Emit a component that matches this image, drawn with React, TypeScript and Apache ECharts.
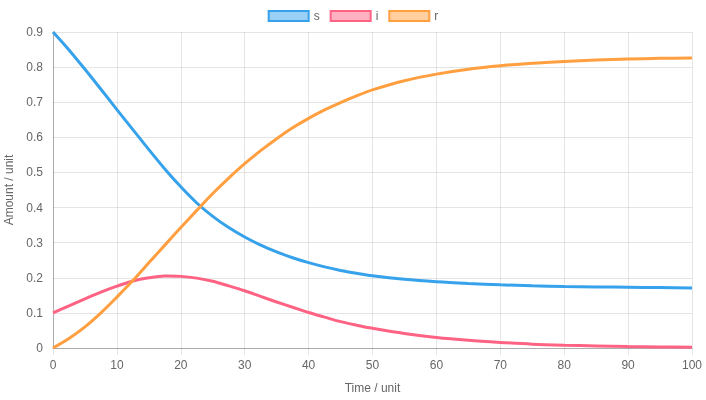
import React, { useEffect, useRef } from "react";
import * as echarts from "echarts";

const times = [0, 2.5, 5, 7.5, 10, 12.5, 15, 17.5, 20, 22.5, 25, 27.5, 30, 32.5, 35, 37.5, 40, 42.5, 45, 47.5, 50, 55, 60, 65, 70, 75, 80, 85, 90, 95, 100];
const sValues = [0.9, 0.849, 0.794, 0.737, 0.679, 0.622, 0.565, 0.51, 0.459, 0.413, 0.375, 0.343, 0.316, 0.293, 0.274, 0.257, 0.243, 0.231, 0.221, 0.213, 0.206, 0.196, 0.189, 0.184, 0.18, 0.177, 0.175, 0.174, 0.173, 0.172, 0.171];
const iValues = [0.1, 0.12, 0.14, 0.159, 0.176, 0.191, 0.2, 0.205, 0.204, 0.199, 0.19, 0.177, 0.163, 0.147, 0.131, 0.116, 0.101, 0.088, 0.075, 0.065, 0.056, 0.041, 0.03, 0.022, 0.016, 0.011, 0.008, 0.006, 0.004, 0.003, 0.002];
const rValues = [0, 0.027, 0.06, 0.1, 0.145, 0.192, 0.243, 0.293, 0.343, 0.392, 0.44, 0.484, 0.525, 0.562, 0.596, 0.627, 0.654, 0.678, 0.699, 0.718, 0.735, 0.761, 0.78, 0.794, 0.804, 0.811, 0.816, 0.82, 0.823, 0.825, 0.826];

const seriesNames = ["s", "i", "r"];
const lineColors = ["rgb(54,162,235)", "rgb(255,99,132)", "rgb(255,159,64)"];
const fillColors = ["rgba(54,162,235,0.5)", "rgba(255,99,132,0.5)", "rgba(255,159,64,0.5)"];

const FONT = "'Liberation Sans', Arial, Helvetica, sans-serif";

export default function App() {
  const ref = useRef<HTMLDivElement>(null);
  useEffect(() => {
    if (!ref.current) return;
    const chart = echarts.init(ref.current, undefined, { renderer: "svg" });
    const all = [sValues, iValues, rValues];
    chart.setOption({
      animation: false,
      textStyle: { fontFamily: FONT },
      legend: {
        top: 5,
        left: "center",
        itemWidth: 40,
        itemHeight: 10,
        itemGap: 10,
        icon: "rect",
        textStyle: { color: "#666", fontSize: 12, fontFamily: FONT },
        data: seriesNames,
      },
      grid: {
        left: 53,
        right: 14,
        top: 32,
        bottom: 52,
        containLabel: false,
        outerBoundsMode: "none",
      },
      xAxis: {
        type: "value",
        min: 0,
        max: 100,
        interval: 10,
        name: "Time / unit",
        nameLocation: "middle",
        nameGap: 34,
        nameTextStyle: { color: "#666", fontSize: 12, fontFamily: FONT },
        axisLine: { show: true, lineStyle: { color: "rgba(0,0,0,0.25)", width: 1 } },
        axisTick: { show: true, length: 7, lineStyle: { color: "rgba(0,0,0,0.1)" } },
        axisLabel: { color: "#666", fontSize: 12, margin: 11, fontFamily: FONT },
        splitLine: { show: true, lineStyle: { color: "rgba(0,0,0,0.1)" } },
      },
      yAxis: {
        type: "value",
        min: 0,
        max: 0.9,
        interval: 0.1,
        name: "Amount / unit",
        nameLocation: "middle",
        nameGap: 35,
        nameTextStyle: { color: "#666", fontSize: 12, fontFamily: FONT },
        axisLine: { show: true, lineStyle: { color: "rgba(0,0,0,0.25)", width: 1 } },
        axisTick: { show: false },
        axisLabel: {
          color: "#666",
          fontSize: 12,
          margin: 10,
          fontFamily: FONT,
          formatter: (v: number) => String(Math.round(v * 10) / 10),
        },
        splitLine: { show: true, lineStyle: { color: "rgba(0,0,0,0.1)" } },
      },
      series: seriesNames.map((name, k) => ({
        name,
        type: "line",
        smooth: 0.3,
        symbol: "none",
        lineStyle: { color: lineColors[k], width: 3 },
        itemStyle: { color: fillColors[k], borderColor: lineColors[k], borderWidth: 3 },
        data: times.map((t, j) => [t, all[k][j]]),
      })),
    });
    return () => chart.dispose();
  }, []);
  return (
    <div
      ref={ref}
      style={{ position: "fixed", left: 0, top: 0, width: 706, height: 400 }}
    />
  );
}
